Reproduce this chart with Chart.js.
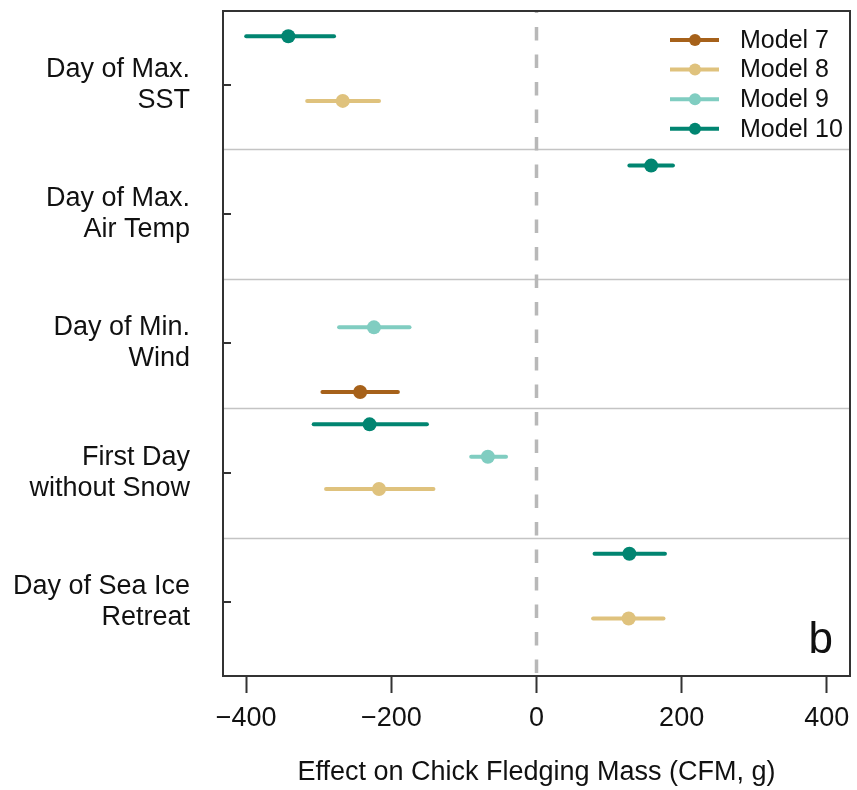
<!DOCTYPE html>
<html>
<head>
<meta charset="utf-8">
<script src="https://cdn.jsdelivr.net/npm/chart.js@4"></script>
<style>
  body { margin: 0; background: #fff; }
  canvas { display: block; }
</style>
</head>
<body>
<canvas id="cfm" width="857" height="790"></canvas>
<script>
// predictors (top to bottom) and models
const categories = [
  ["Day of Max.", "SST"],
  ["Day of Max.", "Air Temp"],
  ["Day of Min.", "Wind"],
  ["First Day", "without Snow"],
  ["Day of Sea Ice", "Retreat"]
];
const models = ["Model 7", "Model 8", "Model 9", "Model 10"];
const colors = ["#a6611a", "#dfc27d", "#80cdc1", "#018571"];

// estimates and intervals, null = predictor not in model
const model7Est = [null, null, -243, null, null];
const model7Lo  = [null, null, -295, null, null];
const model7Hi  = [null, null, -191, null, null];

const model8Est = [-267, null, null, -217, 127];
const model8Lo  = [-316, null, null, -290, 78];
const model8Hi  = [-217, null, null, -142, 175];

const model9Est = [null, null, -224, -67, null];
const model9Lo  = [null, null, -272, -90, null];
const model9Hi  = [null, null, -175, -42, null];

const model10Est = [-342, 158, null, -230, 128];
const model10Lo  = [-400, 128, null, -307, 80];
const model10Hi  = [-279, 188, null, -151, 177];

const xTicks = [-400, -200, 0, 200, 400];

const estimates = [model7Est, model8Est, model9Est, model10Est];
const lows = [model7Lo, model8Lo, model9Lo, model10Lo];
const highs = [model7Hi, model8Hi, model9Hi, model10Hi];
// slot inside each band: model 10 at top, model 7 at bottom
const slots = [0.875, 0.625, 0.375, 0.125];

const FONT = "'Liberation Sans', Arial, Helvetica, sans-serif";

const datasets = models.map((m, k) => {
  const pts = [];
  estimates[k].forEach((v, i) => {
    if (v === null) return;
    pts.push({ x: v, y: i + slots[k], lo: lows[k][i], hi: highs[k][i] });
  });
  return {
    label: m,
    data: pts,
    backgroundColor: colors[k],
    borderColor: colors[k],
    pointRadius: 7,
    pointHoverRadius: 7,
    borderWidth: 0
  };
});

// fond : séparateurs de bandes, ligne zéro, barres d'erreur
const backdrop = {
  id: "backdrop",
  beforeDatasetsDraw(chart) {
    const { ctx, chartArea: a, scales: { x, y } } = chart;
    ctx.save();
    ctx.strokeStyle = "#c4c4c4";
    ctx.lineWidth = 1.5;
    for (let b = 1; b < categories.length; b++) {
      const py = Math.round(y.getPixelForValue(b)) + 0.5;
      ctx.beginPath();
      ctx.moveTo(a.left, py);
      ctx.lineTo(a.right, py);
      ctx.stroke();
    }
    ctx.strokeStyle = "#b8b8b8";
    ctx.lineWidth = 3.5;
    ctx.setLineDash([13.5, 14]);
    ctx.lineDashOffset = 11.5;
    const px0 = x.getPixelForValue(0);
    ctx.beginPath();
    ctx.moveTo(px0, a.top);
    ctx.lineTo(px0, a.bottom);
    ctx.stroke();
    ctx.setLineDash([]);

    ctx.lineWidth = 4;
    ctx.lineCap = "round";
    chart.data.datasets.forEach(ds => {
      ctx.strokeStyle = ds.borderColor;
      ds.data.forEach(p => {
        const py = y.getPixelForValue(p.y);
        ctx.beginPath();
        ctx.moveTo(x.getPixelForValue(p.lo), py);
        ctx.lineTo(x.getPixelForValue(p.hi), py);
        ctx.stroke();
      });
    });
    ctx.restore();
  },
  afterDatasetsDraw(chart) {
    const { ctx, chartArea: a, scales: { y } } = chart;
    ctx.save();
    // cadre
    ctx.strokeStyle = "#333";
    ctx.lineWidth = 2;
    ctx.strokeRect(a.left, a.top, a.right - a.left, a.bottom - a.top);
    // graduations y vers l'intérieur
    categories.forEach((c, i) => {
      const py = Math.round(y.getPixelForValue(i + 0.5));
      ctx.beginPath();
      ctx.moveTo(a.left, py);
      ctx.lineTo(a.left + 8, py);
      ctx.stroke();
    });
    // légende
    ctx.font = "25px " + FONT;
    ctx.textBaseline = "middle";
    ctx.textAlign = "left";
    models.forEach((m, k) => {
      const ly = 40 + k * 29.6;
      ctx.strokeStyle = colors[k];
      ctx.fillStyle = colors[k];
      ctx.lineWidth = 4;
      ctx.beginPath();
      ctx.moveTo(670, ly);
      ctx.lineTo(719, ly);
      ctx.stroke();
      ctx.beginPath();
      ctx.arc(695, ly, 6, 0, Math.PI * 2);
      ctx.fill();
      ctx.fillStyle = "#111";
      ctx.fillText(m, 740, ly + 1);
    });
    // lettre du panneau
    ctx.font = "44px " + FONT;
    ctx.textAlign = "right";
    ctx.textBaseline = "alphabetic";
    ctx.fillText("b", a.right - 17, a.bottom - 23);
    ctx.restore();
  }
};

new Chart(document.getElementById("cfm"), {
  type: "scatter",
  data: { datasets },
  plugins: [backdrop],
  options: {
    responsive: false,
    animation: false,
    layout: { padding: { top: 11, right: 4, left: 0, bottom: 0 } },
    plugins: { legend: { display: false }, tooltip: { enabled: false } },
    scales: {
      x: {
        min: -432,
        max: 432,
        afterBuildTicks: s => { s.ticks = xTicks.map(v => ({ value: v })); },
        afterFit: s => { s.height = 114; s.paddingLeft = 0; s.paddingRight = 0; },
        border: { display: false },
        grid: { drawOnChartArea: false, drawTicks: true, tickLength: 17, tickColor: "#333", tickWidth: 2 },
        ticks: {
          padding: 9,
          color: "#111",
          font: { family: FONT, size: 27 },
          callback: v => (v < 0 ? "\u2212" + Math.abs(v) : String(v))
        },
        title: {
          display: true,
          text: "Effect on Chick Fledging Mass (CFM, g)",
          color: "#111",
          font: { family: FONT, size: 27 },
          padding: { top: 0, bottom: 1 }
        }
      },
      y: {
        min: -0.07,
        max: 5.07,
        reverse: true,
        afterBuildTicks: s => { s.ticks = categories.map((c, i) => ({ value: i + 0.5 })); },
        afterFit: s => { s.width = 223; s.paddingTop = 0; s.paddingBottom = 0; },
        border: { display: false },
        grid: { display: false, drawTicks: false },
        ticks: {
          padding: 33,
          color: "#111",
          font: { family: FONT, size: 27, lineHeight: 1.15 },
          callback: (v, i) => categories[i]
        }
      }
    }
  }
});
</script>
</body>
</html>
